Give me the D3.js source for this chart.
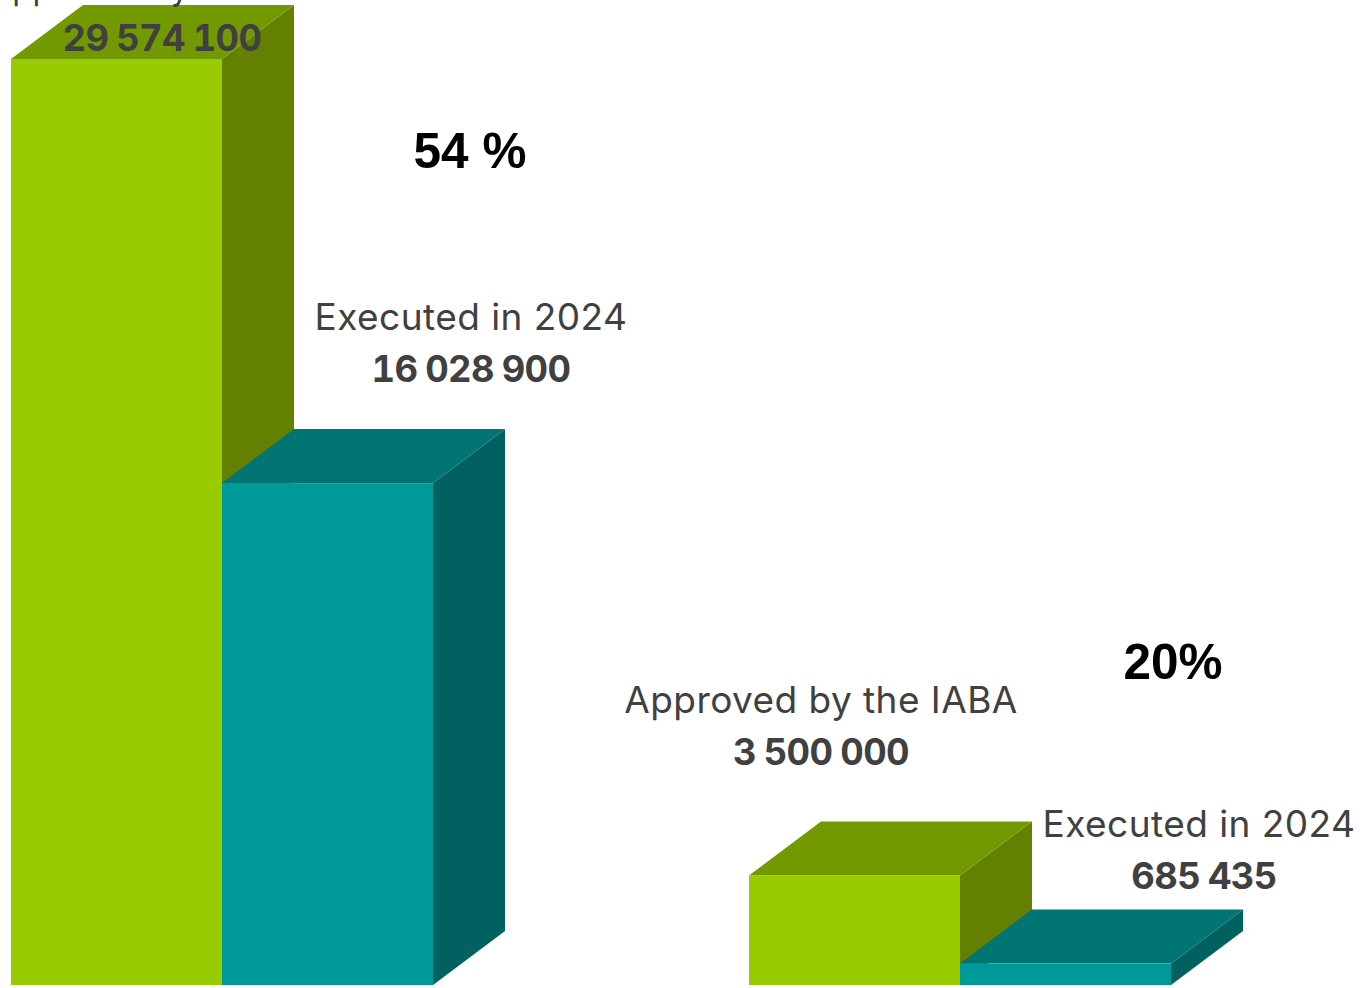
<!DOCTYPE html>
<html lang="en">
<head>
<meta charset="utf-8">
<title>Approved and executed in 2024</title>
<script src="https://d3js.org/d3.v7.min.js"></script>
<style>
  html, body { margin: 0; padding: 0; background: #fff; overflow: hidden; }
  svg { display: block; }
  .name { font-family: Inter, sans-serif; font-size: 37px; letter-spacing: 0.45px; fill: #404040; text-anchor: middle; }
  .value { font-family: Inter, sans-serif; font-size: 36.4px; font-weight: 700; font-feature-settings: "tnum"; letter-spacing: -0.6px; word-spacing: -1.4px; fill: #404040; text-anchor: middle; }
  .pct { font-family: "Liberation Sans", sans-serif; font-size: 49.5px; font-weight: 700; fill: #000; text-anchor: middle; }
</style>
</head>
<body>
<div id="chart"></div>
<script>
// values
var groups = ["first", "second"];
var series = ["Approved by the IABA", "Executed in 2024"];
var approved = [29574100, 3500000];
var executed = [16028900, 685435];
var percents = ["54 %", "20%"];

var width = 1365, height = 988;

// colours per series: front, top, side
var colors = [
  {front: "#99cc00", top: "#739900", side: "#648000"},
  {front: "#009999", top: "#007373", side: "#006161"}
];

// 3d extrusion
var depthX = 72, depthY = 54;

// label centres and baselines, one row per group then series
var labelPos = [
  [{x: 162, y: -1, len: 345}, {x: 471, y: 330}],
  [{x: 821, y: 713}, {x: 1199, y: 837}]
];
var valuePos = [
  [{x: 162, y: 51}, {x: 471, y: 382}],
  [{x: 821, y: 765}, {x: 1204, y: 889}]
];
var pctPos = [{x: 470, y: 168}, {x: 1173, y: 679}];

var x = d3.scaleBand()
  .domain(groups)
  .range([11, 1171])
  .paddingInner(316 / 738);

var xInner = d3.scaleBand()
  .domain(series)
  .range([0, x.bandwidth()]);

var y = d3.scaleLinear()
  .domain([0, approved[0]])
  .range([985, 59]);

var fmt = d3.formatLocale({decimal: ".", thousands: " ", grouping: [3], currency: ["", ""]}).format(",d");

var svg = d3.select("#chart").append("svg")
  .attr("width", width)
  .attr("height", height);

var bars = [];
groups.forEach(function(g, i) {
  bars.push({group: g, gi: i, si: 0, name: series[0], value: approved[i]});
  bars.push({group: g, gi: i, si: 1, name: series[1], value: executed[i]});
});

function pts(list) {
  return list.map(function(p) { return p.join(","); }).join(" ");
}

var bar = svg.selectAll("g.bar")
  .data(bars)
  .enter().append("g")
    .attr("class", "bar");

// side face
bar.append("polygon")
  .attr("fill", function(d) { return colors[d.si].side; })
  .attr("points", function(d) {
    var r = x(d.group) + xInner(d.name) + xInner.bandwidth(), t = y(d.value), b = y(0);
    return pts([[r, t], [r + depthX, t - depthY], [r + depthX, b - depthY], [r, b]]);
  });

// top face
bar.append("polygon")
  .attr("fill", function(d) { return colors[d.si].top; })
  .attr("points", function(d) {
    var l = x(d.group) + xInner(d.name), r = l + xInner.bandwidth(), t = y(d.value);
    return pts([[l, t], [l + depthX, t - depthY], [r + depthX, t - depthY], [r, t]]);
  });

// front face
bar.append("rect")
  .attr("fill", function(d) { return colors[d.si].front; })
  .attr("x", function(d) { return x(d.group) + xInner(d.name); })
  .attr("y", function(d) { return y(d.value); })
  .attr("width", xInner.bandwidth())
  .attr("height", function(d) { return y(0) - y(d.value); });

// labels go on top of every bar
svg.selectAll("text.name")
  .data(bars)
  .enter().append("text")
    .attr("class", "name")
    .attr("x", function(d) { return labelPos[d.gi][d.si].x; })
    .attr("y", function(d) { return labelPos[d.gi][d.si].y; })
    .each(function(d) {
      // the top label is narrower in the picture
      var len = labelPos[d.gi][d.si].len;
      if (len) d3.select(this).attr("textLength", len).attr("lengthAdjust", "spacingAndGlyphs");
    })
    .text(function(d) { return d.name; });

svg.selectAll("text.value")
  .data(bars)
  .enter().append("text")
    .attr("class", "value")
    .attr("x", function(d) { return valuePos[d.gi][d.si].x; })
    .attr("y", function(d) { return valuePos[d.gi][d.si].y; })
    .text(function(d) { return fmt(d.value); });

svg.selectAll("text.pct")
  .data(percents)
  .enter().append("text")
    .attr("class", "pct")
    .attr("x", function(d, i) { return pctPos[i].x; })
    .attr("y", function(d, i) { return pctPos[i].y; })
    .text(function(d) { return d; });
</script>
</body>
</html>
